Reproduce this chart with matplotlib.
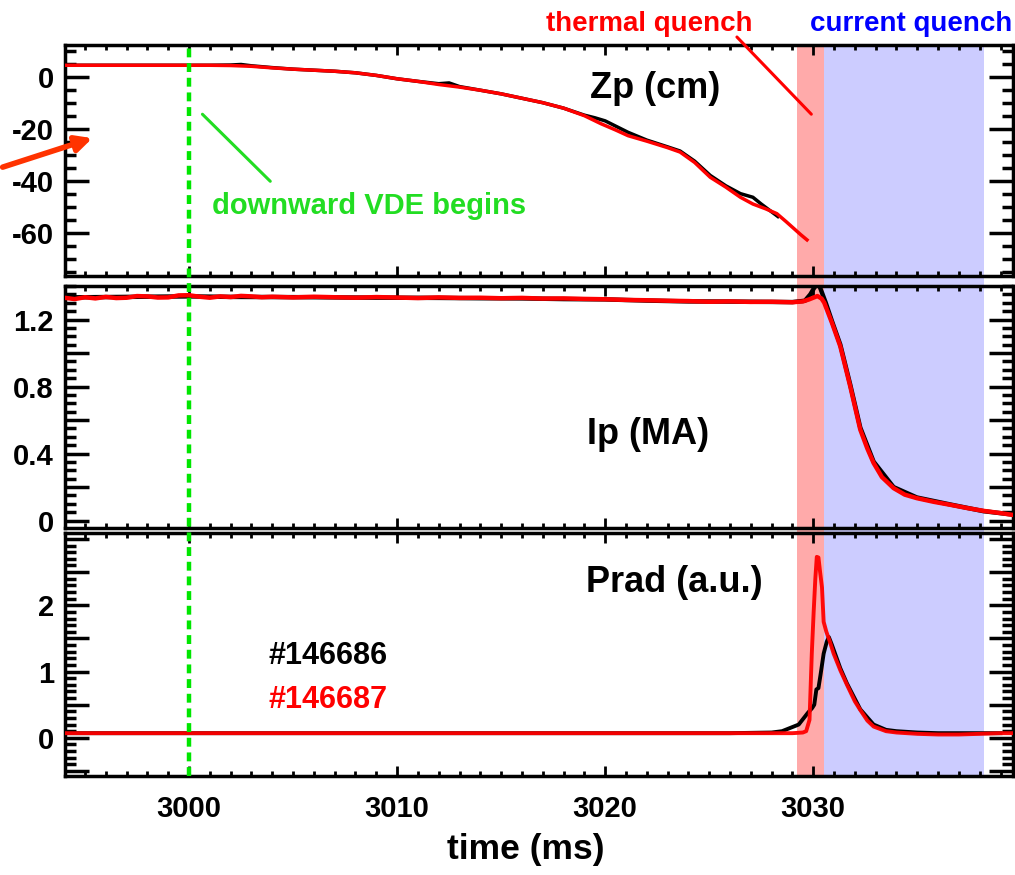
import matplotlib
matplotlib.use("Agg")
import matplotlib.pyplot as plt
from matplotlib.ticker import MultipleLocator, FixedLocator
from matplotlib.patches import Rectangle, FancyArrowPatch
from matplotlib.lines import Line2D
from matplotlib.transforms import blended_transform_factory

plt.rcParams['font.family'] = ['Liberation Sans', 'DejaVu Sans']
plt.rcParams['font.weight'] = 'bold'

# ---------------- data ----------------
shot_labels = ["#146686", "#146687"]

# Zp (cm)
zp_t_red = [2994, 2996, 2998, 3000, 3001, 3002, 3003, 3004, 3005, 3006, 3007, 3008,
            3009, 3010, 3011, 3012, 3013, 3014, 3015, 3016, 3017, 3018, 3019, 3019.8,
            3020.5, 3021.1, 3022, 3023, 3023.6, 3024.3, 3025.05, 3025.8, 3026.5,
            3027.1, 3027.7, 3028.25, 3028.7, 3029.05, 3029.4, 3029.7]
zp_red = [4.4, 4.4, 4.4, 4.4, 4.4, 4.3, 4.0, 3.4, 2.9, 2.5, 2.1, 1.5,
          0.5, -0.8, -1.8, -3.0, -4.0, -5.2, -6.6, -8.3, -10.0, -12.1, -15.0, -18.1,
          -20.5, -22.7, -24.8, -27.3, -29.0, -33.0, -38.7, -42.5, -46.4,
          -49.0, -50.8, -52.7, -55.8, -58.3, -60.8, -62.8]
zp_t_blk = [2994, 2996, 2998, 3000, 3001, 3002, 3002.5, 3003, 3004, 3005, 3006, 3007,
            3008, 3009, 3010, 3011, 3012, 3012.5, 3013, 3014, 3015, 3016, 3017, 3018,
            3019, 3019.5, 3020, 3021.1, 3022, 3023, 3023.6, 3024.3, 3025.05, 3025.8,
            3026.5, 3027.1, 3027.5, 3028.0, 3028.3]
zp_blk = [4.4, 4.4, 4.4, 4.4, 4.4, 4.5, 4.7, 4.2, 3.5, 2.9, 2.5, 2.1,
          1.5, 0.5, -0.8, -1.8, -2.7, -2.4, -3.8, -5.2, -6.6, -8.3, -10.0, -12.1,
          -14.8, -15.8, -17.0, -21.4, -24.4, -27.0, -28.6, -32.5, -38.0, -42.0,
          -45.0, -46.4, -49.0, -52.0, -53.8]

# Ip (MA)
ip_t_red = [2994, 2994.5, 2995, 2995.5, 2996, 2996.5, 2997, 2997.5, 2998, 2998.5, 2999,
            2999.5, 3000, 3000.5, 3001, 3001.5, 3002, 3002.5, 3003, 3003.5, 3004, 3005,
            3006, 3007, 3008, 3009, 3010, 3011, 3012, 3013, 3014, 3015, 3016, 3017,
            3018, 3019, 3020, 3021, 3022, 3023, 3024, 3025, 3026, 3027, 3028, 3029,
            3029.5, 3029.8, 3030.2, 3030.4, 3030.53, 3030.9, 3031.3, 3031.78, 3032.26,
            3032.6, 3032.9, 3033.3, 3033.86, 3034.4, 3034.98, 3035.8, 3036.6, 3037.4,
            3038.2, 3039.0, 3039.6]
ip_red = [1.330, 1.322, 1.333, 1.326, 1.335, 1.328, 1.330, 1.340, 1.338, 1.331, 1.332,
          1.344, 1.345, 1.336, 1.330, 1.338, 1.334, 1.341, 1.338, 1.333, 1.336, 1.332,
          1.336, 1.333, 1.330, 1.334, 1.331, 1.328, 1.332, 1.329, 1.330, 1.327, 1.329, 1.325,
          1.326, 1.323, 1.321, 1.317, 1.315, 1.312, 1.310, 1.306, 1.308, 1.305, 1.306, 1.303,
          1.308, 1.320, 1.340, 1.325, 1.300, 1.180, 1.040, 0.800, 0.543,
          0.430, 0.344, 0.260, 0.194, 0.155, 0.134, 0.112, 0.094, 0.075,
          0.058, 0.045, 0.034]
ip_t_blk = [2994, 2996, 2998, 3000, 3002, 3004, 3006, 3008, 3010, 3012, 3014, 3016,
            3018, 3020, 3022, 3024, 3026, 3028, 3029, 3029.6, 3029.86, 3030.05, 3030.18,
            3030.3, 3030.42, 3030.6, 3030.9, 3031.3, 3031.78, 3032.26, 3032.9, 3033.86,
            3034.98, 3036.6, 3038.2, 3039.6]
ip_blk = [1.332, 1.334, 1.336, 1.338, 1.335, 1.334, 1.333, 1.331, 1.330, 1.329, 1.327, 1.326,
          1.322, 1.320, 1.313, 1.308, 1.307, 1.305, 1.304, 1.312, 1.350, 1.390, 1.410,
          1.400, 1.360, 1.300, 1.190, 1.050, 0.810, 0.555, 0.352, 0.200,
          0.138, 0.096, 0.056, 0.036]

# Prad (a.u.)
pr_t_red = [2994, 2996, 2998, 3000, 3002, 3004, 3006, 3008, 3010, 3012, 3014, 3016,
            3018, 3020, 3022, 3024, 3026, 3028, 3029, 3029.5, 3029.66, 3029.82, 3029.93,
            3030.02, 3030.1, 3030.17, 3030.25, 3030.33, 3030.42, 3030.5, 3030.63,
            3030.8, 3030.98, 3031.3, 3031.62, 3032.0, 3032.26, 3032.6, 3032.9, 3033.5,
            3034.0, 3035.0, 3036.0, 3037.0, 3038.0, 3039.0, 3039.6]
pr_red = [0.07, 0.07, 0.07, 0.07, 0.07, 0.07, 0.07, 0.07, 0.07, 0.07, 0.07, 0.07,
          0.07, 0.07, 0.07, 0.07, 0.07, 0.07, 0.07, 0.08, 0.10, 0.27, 1.27,
          1.90, 2.40, 2.73, 2.72, 2.50, 2.27, 1.75, 1.60,
          1.45, 1.27, 1.02, 0.80, 0.55, 0.42, 0.26, 0.17, 0.10,
          0.08, 0.06, 0.05, 0.05, 0.06, 0.07, 0.07]
pr_t_blk = [2994, 2998, 3002, 3006, 3010, 3014, 3018, 3022, 3026, 3028, 3028.5, 3028.9,
            3029.3, 3029.55, 3029.75, 3029.95, 3030.05, 3030.15, 3030.25, 3030.35,
            3030.5, 3030.65, 3030.75, 3030.9, 3031.3, 3031.62, 3032.26, 3032.9, 3033.5,
            3034.0, 3035.0, 3036.0, 3037.0, 3038.0, 3039.0]
pr_blk = [0.07, 0.07, 0.07, 0.07, 0.07, 0.07, 0.07, 0.07, 0.07, 0.08, 0.10, 0.15,
          0.20, 0.30, 0.38, 0.45, 0.50, 0.73, 0.75, 0.95,
          1.27, 1.45, 1.52, 1.40, 1.05, 0.82, 0.43, 0.20, 0.12,
          0.10, 0.08, 0.07, 0.07, 0.07, 0.07]

# phases (ms)
vde_start = 3000
tq_start, tq_end = 3029.2, 3030.5
cq_end = 3038.2

xlim = (2994.04, 3039.6)
zp_ticks = [0, -20, -40, -60]
zp_ticklabels = ["0", "-20", "-40", "-60"]
ip_ticks = [0, 0.2, 0.4, 0.6, 0.8, 1.0, 1.2]
ip_ticklabels = ["0", "", "0.4", "", "0.8", "", "1.2"]
pr_ticks = [-0.5, 0, 0.5, 1, 1.5, 2, 2.5, 3]
pr_ticklabels = ["", "0", "", "1", "", "2", "", ""]
x_ticks = [3000, 3010, 3020, 3030]
x_ticklabels = ["3000", "3010", "3020", "3030"]

# ---------------- figure ----------------
W, H = 1015, 875
fig = plt.figure(figsize=(W / 100, H / 100), dpi=100, facecolor='white')


def fx(x):
    return x / W


def fy(y):
    return 1 - y / H


def box(x0, y0, x1, y1):
    return [fx(x0), fy(y1), fx(x1) - fx(x0), fy(y0) - fy(y1)]


ax1 = fig.add_axes(box(65, 45, 1013, 276))
ax2 = fig.add_axes(box(65, 286, 1013, 528))
ax3 = fig.add_axes(box(65, 533, 1013, 776))
axes = [ax1, ax2, ax3]

for ax in axes:
    ax.set_facecolor('none')
    ax.set_xlim(*xlim)
    for s in ax.spines.values():
        s.set_linewidth(2.5)
    ax.xaxis.set_major_locator(FixedLocator(x_ticks))
    ax.xaxis.set_minor_locator(MultipleLocator(1))
    ax.tick_params(axis='x', which='both', direction='in', top=True, bottom=True,
                   width=2.0, labelsize=21, pad=14)
    ax.tick_params(axis='x', which='major', length=7)
    ax.tick_params(axis='x', which='minor', length=3.5)
    ax.tick_params(axis='y', which='both', direction='in', left=True, right=True,
                   width=2.5, labelsize=21, pad=8)
    ax.tick_params(axis='y', which='major', length=17)
    ax.tick_params(axis='y', which='minor', length=8)

ax1.set_xticklabels([])
ax2.set_xticklabels([])
ax3.set_xticklabels(x_ticklabels, fontweight='bold')

ax1.set_ylim(-76.7, 12.2)
ax1.set_yticks(zp_ticks)
ax1.set_yticklabels(zp_ticklabels, fontweight='bold')
ax1.yaxis.set_minor_locator(MultipleLocator(5))

ax2.set_ylim(-0.044, 1.40)
ax2.set_yticks(ip_ticks)
ax2.set_yticklabels(ip_ticklabels, fontweight='bold')
ax2.yaxis.set_minor_locator(MultipleLocator(0.05))

ax3.set_ylim(-0.576, 3.09)
ax3.set_yticks(pr_ticks)
ax3.set_yticklabels(pr_ticklabels, fontweight='bold')
ax3.yaxis.set_minor_locator(MultipleLocator(0.1))

# curves
ax1.plot(zp_t_blk, zp_blk, color='black', lw=2.5, zorder=3)
ax1.plot(zp_t_red, zp_red, color='#ff0000', lw=2.5, zorder=4)
ax2.plot(ip_t_blk, ip_blk, color='black', lw=3.2, zorder=3)
ax2.plot(ip_t_red, ip_red, color='#ff0000', lw=3.2, zorder=4)
ax3.plot(pr_t_blk, pr_blk, color='black', lw=2.8, zorder=3)
ax3.plot(pr_t_red, pr_red, color='#ff0000', lw=2.8, zorder=4, alpha=0.95)

# phase bands spanning all panels
ytop = fy(45)
ybot = fy(776)
bt = blended_transform_factory(ax1.transData, fig.transFigure)
fig.add_artist(Rectangle((tq_start, ybot), tq_end - tq_start, ytop - ybot, transform=bt,
                         facecolor='#ffaaaa', edgecolor='none', zorder=-1))
fig.add_artist(Rectangle((tq_end, ybot), cq_end - tq_end, ytop - ybot, transform=bt,
                         facecolor='#ccccff', edgecolor='none', zorder=-1))

# VDE start dashed line across all panels
fig.add_artist(Line2D([vde_start, vde_start], [ybot, ytop], transform=bt,
                      color='#00e600', lw=3.2, linestyle=(0, (2.0, 1.3)), zorder=5))

# panel labels
fig.text(fx(655), fy(88), "Zp (cm)", fontsize=26, fontweight='bold', ha='center', va='center')
fig.text(fx(648), fy(435), "Ip (MA)", fontsize=26, fontweight='bold', ha='center', va='center')
fig.text(fx(674), fy(583), "Prad (a.u.)", fontsize=26, fontweight='bold', ha='center', va='center')
fig.text(fx(328), fy(656), shot_labels[0], fontsize=22, fontweight='bold', color='black',
         ha='center', va='center')
fig.text(fx(328), fy(700), shot_labels[1], fontsize=22, fontweight='bold', color='#ff0000',
         ha='center', va='center')

# annotations
fig.text(fx(649), fy(31), "thermal quench", fontsize=20, fontweight='bold', color='#ff0000',
         ha='center', va='baseline')
fig.text(fx(911), fy(31), "current quench", fontsize=20, fontweight='bold', color='#0000ff',
         ha='center', va='baseline')
fig.text(fx(369), fy(206), "downward VDE begins", fontsize=21, fontweight='bold',
         color='#22dd22', ha='center', va='center')
ax1.annotate("", xy=(3030.0, -15.2), xycoords='data',
             xytext=(fx(735), fy(35)), textcoords='figure fraction',
             arrowprops=dict(arrowstyle='-', color='#ff0000', lw=2.2),
             annotation_clip=False)
ax1.annotate("", xy=(3004.0, -41.0), xycoords='data',
             xytext=(3000.55, -13.7), textcoords='data',
             arrowprops=dict(arrowstyle='-', color='#22dd22', lw=2.2))
fig.add_artist(FancyArrowPatch((fx(0), fy(168)), (fx(95), fy(137.3)),
                               transform=fig.transFigure, arrowstyle='-|>',
                               mutation_scale=24, color='#ff3300', lw=4))

fig.text(fx(526), fy(850), "time (ms)", fontsize=25.5, fontweight='bold', ha='center', va='center')

fig.savefig("out.png", dpi=100, facecolor='white')
